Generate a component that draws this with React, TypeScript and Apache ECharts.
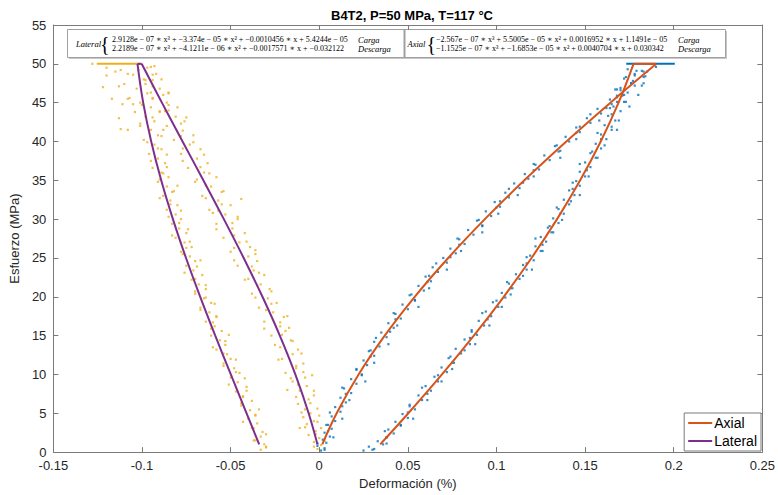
import React, { useEffect, useRef } from "react";
import * as echarts from "echarts";

// ---- Axis ticks ----
const xTickValues = [-0.15, -0.1, -0.05, 0, 0.05, 0.1, 0.15, 0.2, 0.25];
const yTickValues = [0, 5, 10, 15, 20, 25, 30, 35, 40, 45, 50, 55];

const fitStress = [1, 5, 10, 15, 20, 25, 30, 35, 40, 45, 50];
const axialLoadFit = [0.00176, 0.00983, 0.02221, 0.03695, 0.05386, 0.07276, 0.09344, 0.11572, 0.1394, 0.16429, 0.1902];
const axialUnloadFit = [0.0344, 0.05026, 0.06925, 0.08722, 0.10409, 0.11977, 0.13417, 0.14722, 0.15882, 0.16888, 0.17732];
const lateralLoadFit = [-0.00102, -0.00598, -0.01348, -0.02224, -0.03202, -0.04262, -0.05382, -0.06538, -0.07711, -0.08878, -0.10017];
const lateralUnloadFit = [-0.03388, -0.04098, -0.04988, -0.05866, -0.06714, -0.07516, -0.08255, -0.08916, -0.0948, -0.09932, -0.10254];

// ---- Measured points [strain %, stress MPa] ----
const lateralLoadData = [
  [-0.001, 0.4], [0.001, 0.9], [-0.003, 1.3], [0.0, 1.8], [-0.006, 2.2], [-0.002, 2.7], [0.001, 3.1], [-0.007, 3.6],
  [-0.003, 4.0], [-0.009, 4.5], [-0.005, 5.0], [-0.001, 5.6], [-0.012, 6.2], [-0.006, 6.8], [-0.003, 7.3], [-0.011, 7.9],
  [-0.007, 8.5], [-0.015, 9.1], [-0.008, 9.6], [-0.019, 10.2], [-0.013, 10.8], [-0.009, 11.4], [-0.021, 12.0], [-0.015, 12.6],
  [-0.012, 13.2], [-0.025, 13.8], [-0.016, 14.4], [-0.027, 15.0], [-0.019, 15.6], [-0.022, 16.2], [-0.031, 16.8], [-0.020, 17.4],
  [-0.026, 18.0], [-0.034, 18.6], [-0.024, 19.2], [-0.029, 19.8], [-0.038, 20.4], [-0.028, 21.0], [-0.033, 21.6], [-0.042, 22.2],
  [-0.031, 22.8], [-0.037, 23.4], [-0.046, 24.0], [-0.035, 24.6], [-0.040, 25.2], [-0.050, 25.8], [-0.039, 26.4], [-0.045, 27.0],
  [-0.054, 27.6], [-0.042, 28.2], [-0.049, 28.8], [-0.058, 29.4], [-0.046, 30.0], [-0.053, 30.6], [-0.062, 31.2], [-0.050, 31.8],
  [-0.057, 32.4], [-0.066, 33.0], [-0.054, 33.6], [-0.061, 34.2], [-0.070, 34.8], [-0.058, 35.4], [-0.065, 36.0], [-0.074, 36.6],
  [-0.063, 37.2], [-0.069, 37.8], [-0.078, 38.4], [-0.067, 39.0], [-0.073, 39.6], [-0.082, 40.2], [-0.071, 40.8], [-0.077, 41.4],
  [-0.086, 42.0], [-0.076, 42.6], [-0.081, 43.2], [-0.090, 43.8], [-0.080, 44.4], [-0.086, 45.0], [-0.094, 45.6], [-0.085, 46.2],
  [-0.090, 46.8], [-0.098, 47.4], [-0.089, 48.0], [-0.094, 48.6], [-0.102, 49.2], [-0.093, 49.7],
  [-0.008, 3.2], [-0.010, 5.1], [-0.004, 9.9], [-0.018, 8.0], [-0.017, 16.0], [-0.036, 26.0], [-0.060, 30.8], [-0.044, 32.6],
  [-0.003, 0.7], [0.003, 1.5], [-0.002, 2.3], [-0.011, 3.1], [-0.001, 3.9], [0.0, 4.7], [-0.008, 5.5], [-0.005, 6.3],
  [-0.013, 7.1], [-0.003, 7.9], [-0.012, 8.7], [-0.016, 9.5], [-0.009, 10.3], [-0.013, 11.1], [-0.023, 11.9], [-0.010, 12.7],
  [-0.022, 13.5], [-0.015, 14.3], [-0.021, 15.1], [-0.031, 15.9], [-0.022, 16.7], [-0.018, 17.5], [-0.030, 18.3], [-0.027, 19.1],
  [-0.036, 19.9], [-0.027, 20.7], [-0.035, 21.5], [-0.040, 22.3], [-0.034, 23.1], [-0.038, 23.9], [-0.048, 24.7], [-0.036, 25.5],
  [-0.048, 26.3], [-0.041, 27.1], [-0.048, 27.9], [-0.058, 28.7], [-0.049, 29.5], [-0.046, 30.3], [-0.057, 31.1], [-0.055, 31.9],
  [-0.064, 32.7], [-0.055, 33.5], [-0.064, 34.3], [-0.069, 35.1], [-0.062, 35.9], [-0.067, 36.7], [-0.077, 37.5], [-0.065, 38.3],
  [-0.077, 39.1], [-0.071, 39.9], [-0.078, 40.7], [-0.088, 41.5], [-0.078, 42.3], [-0.075, 43.1], [-0.087, 43.9], [-0.085, 44.7],
  [-0.094, 45.5], [-0.085, 46.3], [-0.094, 47.1], [-0.098, 47.9], [-0.092, 48.7], [-0.097, 49.5],
];
const lateralUnloadData = [
  [-0.033, 0.3], [-0.030, 0.6], [-0.031, 1.0], [-0.036, 1.5], [-0.033, 2.0], [-0.032, 2.6], [-0.038, 3.1], [-0.035, 3.7],
  [-0.040, 4.3], [-0.036, 4.8], [-0.039, 5.4], [-0.044, 6.0], [-0.038, 6.6], [-0.043, 7.2], [-0.047, 7.8], [-0.041, 8.4],
  [-0.046, 9.0], [-0.050, 9.6], [-0.045, 10.2], [-0.048, 10.8], [-0.054, 11.4], [-0.050, 12.0], [-0.052, 12.6], [-0.058, 13.2],
  [-0.053, 13.8], [-0.056, 14.4], [-0.061, 15.0], [-0.055, 15.6], [-0.059, 16.2], [-0.064, 16.8], [-0.058, 17.4], [-0.062, 18.0],
  [-0.067, 18.6], [-0.061, 19.2], [-0.065, 19.8], [-0.070, 20.4], [-0.064, 21.0], [-0.068, 21.6], [-0.072, 22.2], [-0.066, 22.8],
  [-0.071, 23.4], [-0.075, 24.0], [-0.070, 24.6], [-0.073, 25.2], [-0.078, 25.8], [-0.072, 26.4], [-0.076, 27.0], [-0.081, 27.6],
  [-0.075, 28.2], [-0.079, 28.8], [-0.083, 29.4], [-0.078, 30.0], [-0.081, 30.6], [-0.086, 31.2], [-0.080, 31.8], [-0.084, 32.4],
  [-0.088, 33.0], [-0.082, 33.6], [-0.086, 34.2], [-0.091, 34.8], [-0.085, 35.4], [-0.089, 36.0], [-0.094, 36.6], [-0.087, 37.2],
  [-0.091, 37.8], [-0.096, 38.4], [-0.089, 39.0], [-0.093, 39.6], [-0.099, 40.2], [-0.091, 40.8], [-0.096, 41.4], [-0.101, 42.0],
  [-0.093, 42.6], [-0.098, 43.2], [-0.104, 43.8], [-0.095, 44.4], [-0.101, 45.0], [-0.107, 45.6], [-0.097, 46.2], [-0.103, 46.8],
  [-0.110, 47.4], [-0.099, 48.0], [-0.105, 48.6], [-0.112, 49.2],
  [-0.122, 47.0], [-0.117, 45.5], [-0.113, 43.0], [-0.120, 48.5], [-0.108, 41.5], [-0.088, 46.0], [-0.085, 44.0], [-0.112, 41.6],
  [-0.111, 44.8], [-0.115, 49.0], [-0.095, 49.6], [-0.105, 44.8], [-0.128, 50.0],
  [-0.030, 0.7], [-0.037, 1.5], [-0.030, 2.3], [-0.037, 3.1], [-0.043, 3.9], [-0.036, 4.7], [-0.034, 5.5], [-0.044, 6.3],
  [-0.043, 7.1], [-0.041, 7.9], [-0.051, 8.7], [-0.042, 9.5], [-0.047, 10.3], [-0.054, 11.1], [-0.047, 11.9], [-0.054, 12.7],
  [-0.060, 13.5], [-0.053, 14.3], [-0.051, 15.1], [-0.061, 15.9], [-0.060, 16.7], [-0.058, 17.5], [-0.067, 18.3], [-0.059, 19.1],
  [-0.064, 19.9], [-0.070, 20.7], [-0.064, 21.5], [-0.070, 22.3], [-0.076, 23.1], [-0.069, 23.9], [-0.067, 24.7], [-0.077, 25.5],
  [-0.075, 26.3], [-0.073, 27.1], [-0.083, 27.9], [-0.074, 28.7], [-0.079, 29.5], [-0.085, 30.3], [-0.078, 31.1], [-0.084, 31.9],
  [-0.090, 32.7], [-0.083, 33.5], [-0.080, 34.3], [-0.090, 35.1], [-0.088, 35.9], [-0.086, 36.7], [-0.095, 37.5], [-0.086, 38.3],
  [-0.091, 39.1], [-0.097, 39.9], [-0.089, 40.7], [-0.095, 41.5], [-0.101, 42.3], [-0.094, 43.1], [-0.090, 43.9], [-0.100, 44.7],
  [-0.108, 45.5], [-0.095, 46.3], [-0.113, 47.1], [-0.094, 47.9], [-0.108, 48.7], [-0.120, 49.5],
];
const axialLoadData = [
  [0.001, 0.2], [0.003, 0.5], [-0.001, 0.8], [0.004, 1.2], [0.002, 1.6], [0.006, 2.0], [0.003, 2.5], [0.007, 3.0],
  [0.004, 3.5], [0.009, 4.0], [0.007, 4.6], [0.012, 5.2], [0.009, 5.8], [0.015, 6.4], [0.012, 7.0], [0.018, 7.6],
  [0.014, 8.2], [0.021, 8.8], [0.018, 9.4], [0.024, 10.0], [0.021, 10.6], [0.027, 11.2], [0.025, 11.8], [0.031, 12.4],
  [0.028, 13.0], [0.034, 13.6], [0.031, 14.2], [0.038, 14.8], [0.035, 15.4], [0.042, 16.0], [0.039, 16.6], [0.046, 17.2],
  [0.043, 17.8], [0.050, 18.4], [0.047, 19.0], [0.054, 19.6], [0.051, 20.2], [0.059, 20.8], [0.056, 21.4], [0.063, 22.0],
  [0.060, 22.6], [0.067, 23.2], [0.064, 23.8], [0.072, 24.4], [0.070, 25.0], [0.077, 25.6], [0.074, 26.2], [0.082, 26.8],
  [0.079, 27.4], [0.087, 28.0], [0.084, 28.6], [0.092, 29.2], [0.089, 29.8], [0.097, 30.4], [0.094, 31.0], [0.102, 31.6],
  [0.099, 32.2], [0.107, 32.8], [0.105, 33.4], [0.113, 34.0], [0.110, 34.6], [0.118, 35.2], [0.116, 35.8], [0.124, 36.4],
  [0.122, 37.0], [0.130, 37.6], [0.127, 38.2], [0.136, 38.8], [0.133, 39.4], [0.141, 40.0], [0.139, 40.6], [0.147, 41.2],
  [0.145, 41.8], [0.153, 42.4], [0.151, 43.0], [0.159, 43.6], [0.157, 44.2], [0.165, 44.8], [0.164, 45.4], [0.172, 46.0],
  [0.170, 46.6], [0.178, 47.2], [0.177, 47.8], [0.184, 48.4], [0.183, 49.0], [0.190, 49.6],
  [0.003, 0.3], [-0.001, 1.1], [0.008, 1.9], [0.005, 2.7], [0.005, 3.5], [0.013, 4.3], [0.006, 5.1], [0.013, 5.9],
  [0.017, 6.7], [0.015, 7.5], [0.013, 8.3], [0.026, 9.1], [0.024, 9.9], [0.021, 10.7], [0.031, 11.5], [0.029, 12.3],
  [0.029, 13.1], [0.039, 13.9], [0.032, 14.7], [0.040, 15.5], [0.044, 16.3], [0.043, 17.1], [0.042, 17.9], [0.056, 18.7],
  [0.054, 19.5], [0.052, 20.3], [0.062, 21.1], [0.061, 21.9], [0.062, 22.7], [0.072, 23.5], [0.066, 24.3], [0.074, 25.1],
  [0.080, 25.9], [0.079, 26.7], [0.078, 27.5], [0.092, 28.3], [0.092, 29.1], [0.090, 29.9], [0.101, 30.7], [0.100, 31.5],
  [0.102, 32.3], [0.112, 33.1], [0.107, 33.9], [0.115, 34.7], [0.121, 35.5], [0.121, 36.3], [0.121, 37.1], [0.136, 37.9],
  [0.135, 38.7], [0.134, 39.5], [0.145, 40.3], [0.145, 41.1], [0.147, 41.9], [0.158, 42.7], [0.153, 43.5], [0.162, 44.3],
  [0.168, 45.1], [0.168, 45.9], [0.168, 46.7], [0.183, 47.5], [0.183, 48.3], [0.182, 49.1],
];
const axialUnloadData = [
  [0.025, 0.2], [0.031, 0.4], [0.028, 0.7], [0.036, 1.0], [0.033, 1.4], [0.038, 1.9], [0.042, 2.4], [0.039, 2.9],
  [0.046, 3.4], [0.043, 3.9], [0.050, 4.4], [0.047, 4.9], [0.054, 5.5], [0.051, 6.1], [0.058, 6.7], [0.056, 7.3],
  [0.063, 7.9], [0.060, 8.5], [0.067, 9.1], [0.065, 9.7], [0.072, 10.3], [0.069, 10.9], [0.076, 11.5], [0.073, 12.1],
  [0.080, 12.7], [0.077, 13.3], [0.085, 13.9], [0.082, 14.5], [0.089, 15.1], [0.086, 15.7], [0.093, 16.3], [0.090, 16.9],
  [0.097, 17.5], [0.094, 18.1], [0.101, 18.7], [0.098, 19.3], [0.105, 19.9], [0.103, 20.5], [0.109, 21.1], [0.107, 21.7],
  [0.113, 22.3], [0.111, 22.9], [0.117, 23.5], [0.115, 24.1], [0.121, 24.7], [0.119, 25.3], [0.125, 25.9], [0.122, 26.5],
  [0.128, 27.1], [0.125, 27.7], [0.131, 28.3], [0.129, 28.9], [0.135, 29.5], [0.132, 30.1], [0.138, 30.7], [0.135, 31.3],
  [0.141, 31.9], [0.138, 32.5], [0.144, 33.1], [0.141, 33.7], [0.147, 34.3], [0.145, 34.9], [0.150, 35.5], [0.147, 36.1],
  [0.153, 36.7], [0.150, 37.3], [0.156, 37.9], [0.153, 38.5], [0.159, 39.1], [0.156, 39.7], [0.162, 40.3], [0.159, 40.9],
  [0.165, 41.5], [0.161, 42.1], [0.167, 42.7], [0.163, 43.3], [0.170, 43.9], [0.166, 44.5], [0.172, 45.1], [0.168, 45.7],
  [0.174, 46.3], [0.170, 46.9], [0.176, 47.5], [0.172, 48.1], [0.178, 48.7], [0.174, 49.3],
  [0.178, 48.5], [0.182, 47.2], [0.185, 49.0], [0.175, 44.5], [0.168, 41.5], [0.180, 46.0],
  [0.030, 0.3], [0.038, 1.1], [0.038, 1.9], [0.037, 2.7], [0.046, 3.5], [0.053, 4.3], [0.050, 5.1], [0.051, 5.9],
  [0.061, 6.7], [0.061, 7.5], [0.058, 8.3], [0.069, 9.1], [0.067, 9.9], [0.075, 10.7], [0.075, 11.5], [0.074, 12.3],
  [0.082, 13.1], [0.088, 13.9], [0.085, 14.7], [0.086, 15.5], [0.096, 16.3], [0.095, 17.1], [0.092, 17.9], [0.103, 18.7],
  [0.100, 19.5], [0.108, 20.3], [0.108, 21.1], [0.106, 21.9], [0.115, 22.7], [0.120, 23.5], [0.117, 24.3], [0.117, 25.1],
  [0.126, 25.9], [0.126, 26.7], [0.122, 27.5], [0.132, 28.3], [0.130, 29.1], [0.137, 29.9], [0.136, 30.7], [0.134, 31.5],
  [0.142, 32.3], [0.147, 33.1], [0.143, 33.9], [0.143, 34.7], [0.152, 35.5], [0.151, 36.3], [0.147, 37.1], [0.157, 37.9],
  [0.154, 38.7], [0.161, 39.5], [0.159, 40.3], [0.157, 41.1], [0.165, 41.9], [0.169, 42.7], [0.165, 43.5], [0.164, 44.3],
  [0.173, 45.1], [0.171, 45.9], [0.167, 46.7], [0.176, 47.5], [0.173, 48.3], [0.179, 49.1],
];
// creep holds at 50 MPa
const lateralHold = [[-0.1255, 50], [-0.1008, 50]];
const axialHold = [[0.1732, 50], [0.2006, 50]];

const AXIAL = "#D95319";
const LATERAL = "#7E2F8E";
const BLUE = "#0072BD";
const YELLOW = "#EDB120";
const AX_COLOR = "#7a7a7a";

const SERIF = "'Liberation Serif', 'DejaVu Serif', serif";
const SANS = "'Liberation Sans', Arial, sans-serif";

const eqLeft1 = "2.9128e − 07 ∗ x³ + −3.374e − 05 ∗ x² + −0.0010456 ∗ x + 5.4244e − 05";
const eqLeft2 = "2.2189e − 07 ∗ x³ + −4.1211e − 06 ∗ x² + −0.0017571 ∗ x + −0.032122";
const eqRight1 = "−2.567e − 07 ∗ x³ + 5.5005e − 05 ∗ x² + 0.0016952 ∗ x + 1.1491e − 05";
const eqRight2 = "−1.1525e − 07 ∗ x³ + −1.6853e − 05 ∗ x² + 0.0040704 ∗ x + 0.030342";

function fmt(v: number) {
  return String(parseFloat(v.toFixed(2)));
}

export default function App() {
  const ref = useRef<HTMLDivElement>(null);
  useEffect(() => {
    if (!ref.current) return;
    const chart = echarts.init(ref.current, undefined, { renderer: "svg" });
    const pair = (xs: number[]) => fitStress.map((s, i) => [xs[i], s]);
    const eqText = (x: number, y: number, t: string, size = 8) => ({
      type: "text",
      x,
      y,
      style: { text: t, font: `${size}px ${SERIF}`, fill: "#000", textVerticalAlign: "middle" },
    });
    const it = (x: number, y: number, t: string) => ({
      type: "text",
      x,
      y,
      style: { text: t, font: `italic 8.5px ${SERIF}`, fill: "#000", textVerticalAlign: "middle" },
    });
    const scatter = (name: string, data: number[][], color: string) => ({
      name,
      type: "scatter",
      data,
      symbol: "rect",
      symbolSize: 2.2,
      itemStyle: { color, opacity: 0.8 },
      silent: true,
      z: 2,
    });
    const fitLine = (name: string, data: number[][], color: string, smooth: boolean) => ({
      name,
      type: "line",
      data,
      smooth: smooth ? 0.4 : false,
      showSymbol: false,
      symbol: "none",
      lineStyle: { color, width: 2 },
      itemStyle: { color },
      z: 4,
    });
    chart.setOption({
      animation: false,
      backgroundColor: "#fff",
      title: {
        text: "B4T2, P=50 MPa, T=117 °C",
        left: 407,
        top: 4,
        textAlign: "center",
        textStyle: { fontFamily: SANS, fontSize: 13, fontWeight: "bold", color: "#000" },
      },
      legend: {
        data: ["Axial", "Lateral"],
        orient: "vertical",
        right: 17,
        bottom: 44,
        icon: "rect",
        itemWidth: 24,
        itemHeight: 2,
        itemGap: 4,
        padding: [3, 4, 3, 4],
        borderColor: AX_COLOR,
        borderWidth: 1,
        backgroundColor: "#fff",
        textStyle: { fontFamily: SANS, fontSize: 14, color: "#000", padding: [0, 0, 0, -3] },
      },
      grid: { left: 50, right: 13, top: 25, bottom: 40 },
      xAxis: [
        {
          type: "value",
          min: -0.15,
          max: 0.25,
          interval: 0.05,
          name: "Deformación (%)",
          nameLocation: "middle",
          nameGap: 22,
          nameTextStyle: { fontFamily: SANS, fontSize: 13, color: "#262626" },
          axisLine: { onZero: false, lineStyle: { color: AX_COLOR } },
          axisTick: { inside: true, length: 5, lineStyle: { color: AX_COLOR } },
          axisLabel: {
            fontFamily: SANS,
            fontSize: 13,
            lineHeight: 13,
            color: "#262626",
            margin: 7,
            formatter: (v: number) => (xTickValues.some((t) => Math.abs(t - v) < 1e-9) ? fmt(v) : ""),
          },
          splitLine: { show: false },
        },
        {
          type: "value",
          position: "top",
          min: -0.15,
          max: 0.25,
          interval: 0.05,
          axisLine: { onZero: false, lineStyle: { color: AX_COLOR } },
          axisTick: { inside: true, length: 5, lineStyle: { color: AX_COLOR } },
          axisLabel: { show: false },
          splitLine: { show: false },
        },
      ],
      yAxis: [
        {
          type: "value",
          min: 0,
          max: 55,
          interval: 5,
          name: "Esfuerzo (MPa)",
          nameLocation: "middle",
          nameGap: 25,
          nameTextStyle: { fontFamily: SANS, fontSize: 13, color: "#262626" },
          axisLine: { show: true, onZero: false, lineStyle: { color: AX_COLOR } },
          axisTick: { show: true, inside: true, length: 5, lineStyle: { color: AX_COLOR } },
          axisLabel: {
            fontFamily: SANS,
            fontSize: 13,
            lineHeight: 12,
            color: "#262626",
            margin: 7,
            formatter: (v: number) => (yTickValues.includes(v) ? String(v) : ""),
          },
          splitLine: { show: false },
        },
        {
          type: "value",
          position: "right",
          min: 0,
          max: 55,
          interval: 5,
          axisLine: { show: true, onZero: false, lineStyle: { color: AX_COLOR } },
          axisTick: { show: true, inside: true, length: 5, lineStyle: { color: AX_COLOR } },
          axisLabel: { show: false },
          splitLine: { show: false },
        },
      ],
      series: [
        scatter("latLoadPts", lateralLoadData, YELLOW),
        scatter("latUnloadPts", lateralUnloadData, YELLOW),
        scatter("axLoadPts", axialLoadData, BLUE),
        scatter("axUnloadPts", axialUnloadData, BLUE),
        { ...fitLine("latHold", lateralHold, YELLOW, false), lineStyle: { color: YELLOW, width: 2 }, z: 3 },
        { ...fitLine("axHold", axialHold, BLUE, false), lineStyle: { color: BLUE, width: 2 }, z: 3 },
        fitLine("Axial", pair(axialLoadFit), AXIAL, true),
        fitLine("Axial", [[axialLoadFit[10], 50], [axialUnloadFit[10], 50]], AXIAL, false),
        fitLine("Axial", pair(axialUnloadFit), AXIAL, true),
        fitLine("Lateral", pair(lateralLoadFit), LATERAL, true),
        fitLine("Lateral", [[lateralLoadFit[10], 50], [lateralUnloadFit[10], 50]], LATERAL, false),
        fitLine("Lateral", pair(lateralUnloadFit), LATERAL, true),
      ],
      graphic: [
        {
          type: "group",
          z: 100,
          children: [
            { type: "rect", shape: { x: 69, y: 31, width: 658, height: 28 }, style: { fill: "#c8c8c8" } },
            { type: "rect", shape: { x: 67.5, y: 29.5, width: 658, height: 28 }, style: { fill: "#fff", stroke: "#a0a0a0", lineWidth: 1 } },
            { type: "line", shape: { x1: 404.5, y1: 30, x2: 404.5, y2: 57 }, style: { stroke: "#a0a0a0", lineWidth: 2 } },
            it(76, 44, "Lateral"),
            { type: "text", x: 100, y: 43.5, style: { text: "{", font: `20px ${SERIF}`, fill: "#000", textVerticalAlign: "middle" } },
            eqText(112, 39.5, eqLeft1),
            eqText(112, 48.5, eqLeft2),
            it(358, 39.5, "Carga"),
            it(358, 48.5, "Descarga"),
            it(407.5, 44, "Axial"),
            { type: "text", x: 426.5, y: 43.5, style: { text: "{", font: `20px ${SERIF}`, fill: "#000", textVerticalAlign: "middle" } },
            eqText(436, 39.5, eqRight1),
            eqText(436, 48.5, eqRight2),
            it(678, 39.5, "Carga"),
            it(678, 48.5, "Descarga"),
          ],
        },
      ],
    });
    return () => chart.dispose();
  }, []);
  return <div ref={ref} style={{ position: "fixed", left: 0, top: 0, width: 778, height: 495 }} />;
}
